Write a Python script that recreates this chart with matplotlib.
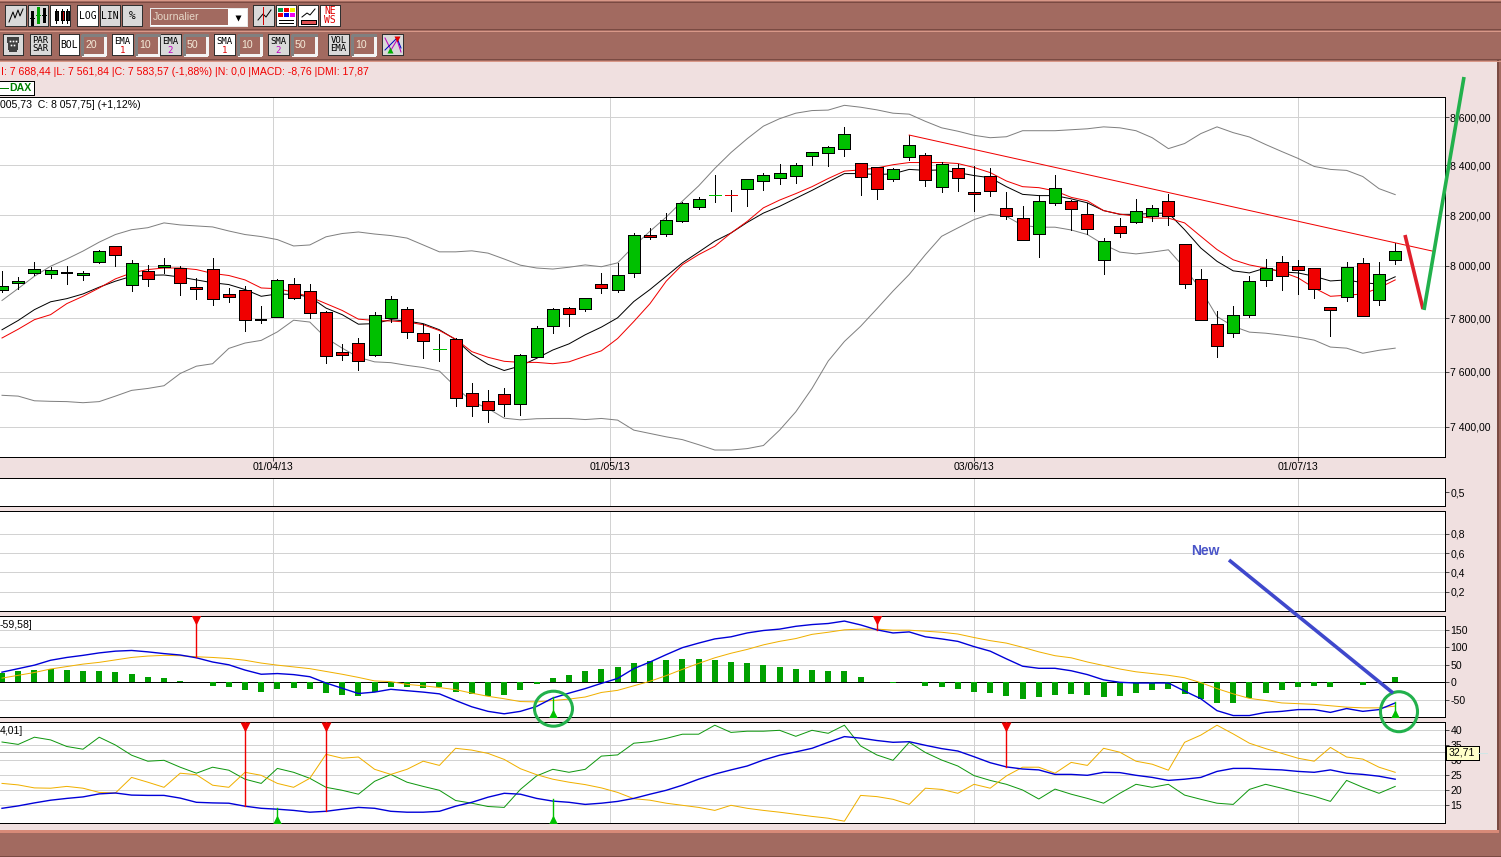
import matplotlib
matplotlib.use('Agg')
import matplotlib.pyplot as plt
from matplotlib.patches import Rectangle, Ellipse
from matplotlib.ticker import NullLocator

plt.rcParams['font.family'] = ['Liberation Sans', 'DejaVu Sans']
# grid, frames and candles are crisp in the screenshot
plt.rcParams['lines.antialiased'] = False
plt.rcParams['patch.antialiased'] = False

W, H = 1501, 857

# daily candles
opens = [7906,7933,7972,7968,7971,7964,8014,8076,7926,7981,7995,7992,7919,7988,7892,7908,7794,7806,7931,7904,
         7823,7672,7706,7663,7799,7835,7743,7683,7721,7520,7491,7516,7480,7655,7769,7838,7833,7931,7906,7972,
         8122,8124,8176,8233,8282,8282,8306,8335,8351,8359,8437,8449,8469,8412,8392,8347,8433,8441,8314,8388,
         8294,8359,8229,8188,8125,8249,8257,8204,8024,8157,8173,8196,8257,8086,7950,7777,7743,7811,7946,8016,
         8000,7992,7842,7881,8012,7870,8024]
closes = [7924,7942,7988,7985,7971,7974,8059,8043,8012,7949,8004,7933,7910,7872,7879,7791,7794,7946,7875,7819,
          7659,7663,7638,7811,7871,7746,7712,7683,7504,7475,7461,7480,7660,7762,7835,7814,7877,7914,7965,8122,
          8112,8180,8249,8265,8282,8282,8343,8363,8371,8400,8457,8474,8531,8355,8306,8384,8482,8339,8404,8351,
          8286,8298,8196,8102,8257,8310,8224,8145,8098,8129,8216,8229,8196,7931,7792,7694,7811,7942,7992,7962,
          7985,7911,7831,7996,7808,7970,8059]
highs = [7982,7959,8016,7995,8001,7981,8063,8076,8025,8005,8031,8000,7954,8031,7915,7921,7847,7949,7955,7932,
         7827,7702,7725,7824,7886,7842,7776,7741,7726,7558,7532,7539,7664,7770,7838,7842,7877,7971,8010,8129,
         8149,8208,8253,8273,8361,8299,8343,8371,8404,8412,8457,8478,8559,8412,8392,8388,8525,8449,8416,8404,
         8396,8388,8294,8238,8282,8361,8261,8249,8110,8188,8265,8241,8286,8086,7988,7827,7846,7962,8027,8039,
         8024,7992,7842,8016,8031,8016,8090]
lows = [7899,7912,7963,7955,7932,7944,8010,7999,7903,7922,7971,7887,7874,7849,7860,7750,7780,7806,7872,7801,
        7633,7643,7606,7658,7787,7726,7650,7640,7475,7439,7417,7439,7442,7655,7742,7769,7826,7895,7899,7956,
        8105,8116,8171,8223,8252,8215,8235,8299,8325,8329,8403,8399,8437,8280,8264,8337,8423,8317,8292,8297,
        8215,8276,8184,8102,8033,8241,8141,8125,7968,8114,8169,8176,8161,7915,7792,7655,7728,7804,7922,7908,
        7892,7877,7731,7865,7808,7851,8008]
doji_black = [4, 16]
doji_green = [27, 44]
doji_red = [45]

boll_upper = [7867,7913,7960,7999,8027,8058,8093,8123,8142,8150,8169,8161,8157,8153,8137,8123,8115,8103,8078,8082,
              8114,8127,8133,8125,8119,8109,8082,8055,8055,8059,8050,8027,8003,7992,7988,7995,8004,7997,8012,8077,
              8136,8192,8256,8317,8388,8453,8510,8562,8593,8616,8627,8629,8649,8641,8630,8616,8612,8582,8555,8541,
              8524,8514,8518,8543,8543,8543,8547,8551,8559,8555,8543,8514,8469,8490,8531,8559,8535,8517,8486,8457,
              8429,8396,8384,8380,8355,8306,8282]
boll_lower = [7513,7510,7493,7491,7490,7486,7490,7510,7531,7538,7548,7593,7620,7629,7686,7706,7716,7748,7792,7785,
              7725,7687,7653,7636,7633,7623,7615,7602,7544,7490,7465,7430,7424,7428,7429,7429,7425,7429,7423,7387,
              7375,7363,7353,7335,7316,7316,7321,7332,7387,7453,7538,7639,7712,7769,7835,7903,7967,8044,8116,8149,
              8182,8203,8195,8159,8152,8152,8141,8123,8084,8054,8047,8054,8063,7992,7909,7806,7769,7747,7743,7736,
              7728,7717,7691,7687,7668,7679,7687]
ema_black = [7756,7791,7832,7862,7874,7892,7918,7941,7960,7964,7965,7957,7946,7935,7928,7909,7883,7892,7890,7881,
             7838,7813,7777,7779,7794,7789,7779,7756,7719,7664,7627,7604,7621,7649,7680,7703,7737,7766,7801,7863,
             7909,7960,8012,8054,8097,8129,8171,8208,8235,8267,8299,8333,8367,8367,8363,8366,8384,8380,8382,8371,
             8359,8350,8314,8283,8278,8278,8265,8249,8218,8203,8203,8207,8208,8142,8070,8018,7981,7973,7992,7977,
             7973,7960,7942,7946,7935,7930,7958]
ema_red = [7725,7758,7794,7813,7855,7883,7915,7950,7973,7986,7992,7992,7986,7971,7963,7946,7915,7912,7899,7881,
           7855,7829,7796,7791,7789,7785,7775,7753,7721,7674,7653,7638,7634,7634,7629,7636,7657,7677,7723,7787,
           7855,7941,8005,8044,8077,8129,8175,8229,8260,8286,8314,8347,8377,8382,8390,8403,8412,8412,8412,8408,
           8392,8371,8337,8314,8310,8297,8271,8257,8218,8204,8195,8188,8188,8169,8116,8064,8024,8004,7992,7977,
           7954,7915,7883,7887,7892,7915,7946]
trend_x = [56, 88.3]
trend_y = [8525, 8058]

macd_hist = [26,32,35,38,35,32,32,29,24,15,12,4,0,-10,-13,-22,-27,-19,-16,-19,
             -30,-36,-39,-27,-13,-13,-16,-13,-27,-33,-39,-36,-22,-5,12,21,32,38,43,55,
             60,63,66,66,63,57,55,49,43,38,35,32,32,15,0,-3,0,-10,-13,-19,
             -27,-30,-38,-47,-41,-35,-33,-35,-41,-38,-30,-21,-19,-33,-47,-60,-58,-44,-30,-21,
             -13,-10,-13,0,-7,0,15]
macd_line = [29,39,49,63,71,77,84,89,91,87,82,78,70,58,50,35,23,25,22,16,
             -2,-17,-32,-28,-20,-24,-28,-33,-52,-70,-83,-90,-83,-69,-45,-31,-18,-3,11,39,
             58,79,99,112,124,130,141,148,152,160,165,168,175,164,150,141,144,130,124,117,
             102,89,67,46,40,40,33,22,7,0,-2,-2,-2,-25,-47,-81,-95,-95,-86,-83,
             -78,-78,-86,-75,-83,-78,-59]
macd_signal = [12,20,28,38,45,52,57,64,71,75,77,76,73,71,68,63,55,49,44,39,
               31,23,14,4,2,-6,-10,-15,-21,-31,-40,-47,-55,-56,-52,-48,-42,-29,-23,-10,
               3,19,37,54,70,83,94,107,117,125,137,143,150,152,152,149,149,146,143,138,
               128,119,112,100,87,76,70,58,48,38,30,25,20,13,-1,-18,-33,-46,-52,-59,
               -61,-63,-67,-71,-73,-73,-68]
macd_sell = [(12, 72), (54, 150)]
macd_buy = [(34, -42), (86, -55)]

dmi_plus = [36.1,35.3,37.7,36.8,34.6,33.7,37.7,35.1,31.7,29.7,30,27.7,25.7,27.7,26.7,23.7,22.3,27.3,26,24,
            21,20,18.7,23,25.3,22.7,21.3,20,16.6,15.7,14.6,14.3,20.3,24.8,27,26,27,31.4,31.8,35.7,
            36.2,37.3,38.7,38.7,41.7,39.3,39.7,39.7,40,38,40,39,41.7,34.8,31.8,30,36,32.6,30.1,28.1,
            24.9,23.3,22,20.1,17.1,20.4,18.7,17.3,15.7,19,22,21,22,18.4,17,15.7,15.3,20.3,22,20.7,
            19.3,18,16.3,23.3,21,19,21.3]
dmi_minus = [22.3,21.8,20.8,20.7,21.3,20.7,19.3,19.1,24.3,22.7,21,25.7,25.2,21.7,21,26,25,22.3,21,24,
             32,30.7,31.1,27,25.3,27,29.7,28.3,34,33.4,32.3,30.3,27.2,25.2,23.7,22.7,21.9,20.8,19.3,17.2,
             16.7,15.7,15,14.3,13.3,15,14,13.3,12.7,12,11.3,10.7,9.7,18.3,17.9,17,15.3,20.7,20.3,19,
             22,20.7,24.8,27.7,27.7,25.7,29.3,28.3,34,32.7,29.7,28.7,26.7,36,38.4,41.7,38.8,35.7,33.9,32.3,
             30.7,29.7,34.3,31.1,30.4,27.7,26]
adx = [14,14.8,15.8,16.7,17.3,17.8,18.8,19.1,18.4,18.3,18.3,17.4,16,15.8,15.7,14.7,14,13.7,13.3,12.7,
       13,13.7,14.3,14,13,12.7,12.7,13,14.7,16,17.7,19,18.7,17.3,16.4,16,15.3,15.7,16.3,17.3,
       18.7,20,21.7,23.7,25.4,26.8,28.1,30.1,31.7,32.8,34,36,37.9,37.4,36.6,36,36.2,35,33.9,33.1,
       31.2,29.2,27.8,27.1,26.8,25.3,25.3,25,26,25.9,25,24.3,23.3,23.7,24.3,26.3,27.3,27.3,27,26.8,
       26.3,26,26.8,25.7,25.3,24.7,23.7]
dmi_sell = [(15, 14.7), (20, 13), (62, 27.8)]
dmi_buy = [(17, 14), (34, 17)]
dmi_last = 32.71

date_pos = [16.7, 37.5, 60, 80]
date_labels = ['01/04/13', '01/05/13', '03/06/13', '01/07/13']
price_ticks = [7400, 7600, 7800, 8000, 8200, 8400, 8600]
price_labels = ['7 400,00', '7 600,00', '7 800,00', '8 000,00', '8 200,00', '8 400,00', '8 600,00']

BROWN = '#a26a60'
PINK = '#f0e0e0'
GRID = '#d2d2d2'
PX = 0.5  # thin width that stays one pixel wide without smoothing
LW = 0.72  # one pixel for the smoothed series lines
FS = 7.6
RIGHT = 1444.5
X0, DX = 2.0, 16.2  # where candle 0 sits, and candle spacing in pixels

fig = plt.figure(figsize=(W / 100, H / 100), dpi=100, facecolor=BROWN)

# window background
bg = fig.add_axes([0, 0, 1, 1], zorder=-1)
bg.set_xlim(0, W)
bg.set_ylim(H, 0)
bg.axis('off')
bg.add_patch(Rectangle((0, 62), 1497, 768, fc=PINK, ec='none'))
bg.add_patch(Rectangle((1497, 60), 2, 772, fc='#7a4a42', ec='none'))
bg.add_patch(Rectangle((0, 830), 1499, 3, fc='#d88a78', ec='none'))
for y0, col in [(0, '#d89888'), (1.5, '#7a4a42'), (29, '#7a4a42'), (30.5, '#d89888'), (59, '#7a4a42'), (60.5, '#d89888')]:
    bg.plot([0, W], [y0, y0], color=col, lw=PX)
bg.plot([0, W], [855.5, 855.5], color='#7a4a42', lw=PX)


def panel(top, bottom, ylim, yticks=None, ylabels=None):
    ax = fig.add_axes([0, 1 - bottom / H, RIGHT / W, (bottom - top) / H], zorder=2)
    ax.set_xlim(-X0 / DX, (RIGHT - X0) / DX)
    ax.set_ylim(*ylim)
    ax.yaxis.tick_right()
    ax.set_xticks(date_pos)
    ax.set_xticklabels([])
    ax.tick_params(axis='x', length=0)
    ax.tick_params(axis='y', length=3, width=PX, pad=1.2, labelsize=FS)
    ax.grid(True, color=GRID, lw=PX, zorder=0)
    ax.set_axisbelow(True)
    ax.spines['left'].set_visible(False)
    for s in ax.spines.values():
        s.set_linewidth(PX * 1.2)
    if yticks is not None:
        ax.set_yticks(yticks)
        ax.set_yticklabels(ylabels)
    return ax


def series(target, y, col, lw=LW, z=2):
    target.plot(idx, y, color=col, lw=lw, zorder=z, antialiased=True)


idx = list(range(len(opens)))

# price panel
ax = panel(97, 456.5, (7293, 8684))
ax.set_yscale('log')
ax.set_ylim(7293, 8684)
ax.yaxis.set_minor_locator(NullLocator())
ax.set_yticks(price_ticks)
ax.set_yticklabels(price_labels)
ax.tick_params(axis='x', length=3, width=PX, labelsize=FS, pad=1, bottom=True)
ax.set_xticklabels(date_labels)
series(ax, boll_upper, '#808080')
series(ax, boll_lower, '#808080')
series(ax, ema_black, 'black')
series(ax, ema_red, '#f00000')
ax.vlines(idx, lows, highs, color='black', lw=PX, zorder=3, antialiased=False)
for i in idx:
    if i in doji_black:
        ax.hlines(opens[i], i - 0.38, i + 0.38, color='black', lw=PX * 2.4, zorder=4, antialiased=False)
    elif i in doji_green:
        ax.hlines(opens[i], i - 0.38, i + 0.38, color='#00c000', lw=PX, zorder=4, antialiased=False)
    elif i in doji_red:
        ax.hlines(opens[i], i - 0.38, i + 0.38, color='#f00000', lw=PX, zorder=4, antialiased=False)
    else:
        col = '#00c000' if closes[i] > opens[i] else '#f00000'
        ax.bar(i, abs(closes[i] - opens[i]), bottom=min(opens[i], closes[i]), width=0.74,
               facecolor=col, edgecolor='black', lw=PX * 1.2, zorder=4)
ax.plot(trend_x, trend_y, color='#f00000', lw=LW, zorder=5, antialiased=True)

# empty indicator panels
ax2 = panel(478, 506, (0, 1), [0.5], ['0,5'])
ax2.grid(False, axis='y')
ax2.grid(True, axis='x', color=GRID, lw=PX)
ax3 = panel(511, 611, (0, 1.036), [0.2, 0.4, 0.6, 0.8], ['0,2', '0,4', '0,6', '0,8'])

# MACD
ax4 = panel(616.3, 717.3, (-100, 188.6), [-50, 0, 50, 100, 150], ['-50', '0', '50', '100', '150'])
ax4.bar(idx, macd_hist, width=0.37, color='#00a000', zorder=3)
ax4.axhline(0, color='black', lw=PX * 1.2, zorder=2)
series(ax4, macd_signal, '#f0b000', z=4)
series(ax4, macd_line, '#0000d8', lw=1.0, z=5)
for i, v in macd_sell:
    ax4.plot([i, i], [v, 188.6], color='#f00000', lw=1.0, zorder=6, antialiased=True)
    ax4.plot(i, 178, marker='v', ms=6.5, color='#f00000', mec='none', zorder=6, antialiased=True)
for i, v in macd_buy:
    ax4.plot([i, i], [-100, v], color='#00c000', lw=1.0, zorder=6, antialiased=True)
    ax4.plot(i, -90, marker='^', ms=6.5, color='#00c000', mec='none', zorder=6, antialiased=True)

# DMI
ax5 = panel(722.3, 823.3, (9, 42.67), [15, 20, 25, 30, 35, 40], ['15', '20', '25', '30', '35', '40'])
ax5.axhline(dmi_last, color='#b4b4b4', lw=PX, zorder=1)
series(ax5, dmi_plus, '#109810', z=3)
series(ax5, dmi_minus, '#f0b000', z=3)
series(ax5, adx, '#0000d8', lw=1.0, z=4)
for i, v in dmi_sell:
    ax5.plot([i, i], [v, 42.67], color='#f00000', lw=1.0, zorder=6, antialiased=True)
    ax5.plot(i, 41, marker='v', ms=6.5, color='#f00000', mec='none', zorder=6, antialiased=True)
for i, v in dmi_buy:
    ax5.plot([i, i], [9, v], color='#00c000', lw=1.0, zorder=6, antialiased=True)
    ax5.plot(i, 10.2, marker='^', ms=6.5, color='#00c000', mec='none', zorder=6, antialiased=True)

# everything on top of the panels, in screen pixels
ov = fig.add_axes([0, 0, 1, 1], zorder=5)
ov.set_xlim(0, W)
ov.set_ylim(H, 0)
ov.axis('off')
ov.patch.set_alpha(0)

ov.text(1, 72, 'I: 7 688,44 |L: 7 561,84 |C: 7 583,57 (-1,88%) |N: 0,0 |MACD: -8,76 |DMI: 17,87',
        color='#f00000', fontsize=FS, va='center')
ov.add_patch(Rectangle((-2, 80.5), 36, 14, fc='white', ec='black', lw=PX))
ov.plot([0, 8], [87.5, 87.5], color='#008000', lw=PX)
ov.text(9, 87.5, 'DAX', color='#008000', fontsize=FS, fontweight='bold', va='center')
ov.text(0, 104.5, '005,73  C: 8 057,75] (+1,12%)', fontsize=FS, va='center')
ov.text(0, 624.5, '-59,58]', fontsize=FS, va='center', clip_on=True)
ov.text(0, 731.5, '4,01]', fontsize=FS, va='center', clip_on=True)

# tooltip with the last DMI value
ov.add_patch(Rectangle((1445.5, 745.5), 33, 14, fc='#ffffc8', ec='black', lw=PX))
ov.text(1462, 752.5, '32,71', fontsize=FS, ha='center', va='center')
ov.plot([1478, 1487], [752.5, 752.5], color='#cfe6e6', lw=PX)

# hand drawn marks
ov.plot([1405, 1423], [235, 309], color='#e0202c', lw=2.6, solid_capstyle='butt', antialiased=True)
ov.plot([1424, 1464], [310, 77], color='#22b14c', lw=2.6, solid_capstyle='butt', antialiased=True)
ov.plot([1229, 1393], [560, 693], color='#3f48cc', lw=2.6, solid_capstyle='butt', antialiased=True)
ov.text(1205.5, 551, 'New', color='#4a55c8', fontsize=10, fontweight='bold', ha='center', va='center')
ov.add_patch(Ellipse((553.5, 708.7), 38, 35, fc='none', ec='#22b14c', lw=2.2, antialiased=True))
ov.add_patch(Ellipse((1399, 711.7), 37, 40, fc='none', ec='#22b14c', lw=2.2, antialiased=True))


def button(x0, y0, x1, y1, fc='#d9d9d9', label=None, col='black', size=7):
    ov.add_patch(Rectangle((x0 + 1, y0 + 1), x1 - x0, y1 - y0, fc='#101010', ec='none'))
    ov.add_patch(Rectangle((x0, y0), x1 - x0, y1 - y0, fc=fc, ec='#303030', lw=PX))
    if label:
        ov.text((x0 + x1) / 2, (y0 + y1) / 2, label, color=col, fontsize=size, ha='center', va='center',
                family='DejaVu Sans Mono', linespacing=0.95)


def value_box(x0, x1, label):
    ov.add_patch(Rectangle((x0, 34.5), x1 - x0, 20, fc=BROWN, ec='#f4f4f4', lw=PX * 1.5))
    ov.plot([x0, x0, x1], [54, 34.5, 34.5], color='#808080', lw=PX * 1.5)
    ov.text(x0 + 3, 44.5, label, color='#f4ead8', fontsize=FS, va='center')


def ma_button(x0, fc, name, num, numcol):
    button(x0, 34, x0 + 21, 55, fc=fc)
    ov.text(x0 + 10.5, 41, name, fontsize=6.5, ha='center', va='center', family='DejaVu Sans Mono')
    ov.text(x0 + 10.5, 50, num, color=numcol, fontsize=6.5, ha='center', va='center', family='DejaVu Sans Mono')


# first toolbar
button(5, 5, 26, 26)
ov.plot([9, 13, 15, 18, 20, 23], [22, 12, 18, 10, 16, 9], color='black', lw=LW, antialiased=True)
button(28, 5, 48, 26)
for xb, yb0, yb1, c in [(32, 12, 24, 'black'), (38, 8, 22, '#00a000'), (44, 9, 21, 'black')]:
    ov.plot([xb, xb], [yb0, yb1], color=c, lw=PX * 1.5)
    ov.plot([xb - 2, xb + 2], [(yb0 + yb1) / 2, (yb0 + yb1) / 2], color=c, lw=PX)
button(50, 5, 70, 26, fc='white')
for xb, c in [(56, '#202020'), (62, '#d00000'), (67, '#202020')]:
    ov.plot([xb, xb], [9, 23], color='black', lw=PX)
    ov.add_patch(Rectangle((xb - 1.5, 11), 3, 9, fc=c, ec='black', lw=PX))
button(77, 5, 98, 26, fc='white', label='LOG')
button(100, 5, 120, 26, label='LIN')
button(122, 5, 142, 26, label='%', size=8)
ov.add_patch(Rectangle((149.5, 7.5), 97, 18, fc='white', ec='#e8e8e8', lw=PX))
ov.add_patch(Rectangle((150.5, 8.5), 77, 16, fc=BROWN, ec='none'))
ov.text(153, 16.5, 'Journalier', color='#e6d8c8', fontsize=FS, va='center')
ov.plot([238], [17.5], marker='v', ms=4.5, color='black', mec='none', antialiased=True)
button(253, 5, 274, 26)
ov.plot([258, 263, 266, 271], [20, 14, 17, 10], color='black', lw=LW, antialiased=True)
ov.plot([263, 263], [7, 24], color='#d00000', lw=PX)
button(276, 5, 296, 26, fc='white')
for xc, yc, c in [(280, 9, '#00a050'), (286, 9, '#f00000'), (292, 9, '#f0f000'), (280, 14, '#f00000'), (286, 14, '#0000f0'), (292, 14, '#f000f0')]:
    ov.add_patch(Rectangle((xc - 2.5, yc - 1.5), 5, 4, fc=c, ec='none'))
ov.plot([279, 293], [20, 20], color='black', lw=PX * 1.4)
ov.plot([279, 293], [23, 23], color='black', lw=PX * 1.4)
button(298, 5, 318, 26, fc='white')
ov.plot([302, 307, 310, 315], [17, 13, 15, 9], color='black', lw=LW, antialiased=True)
ov.add_patch(Rectangle((301, 20), 15, 4, fc='#e05050', ec='black', lw=PX))
button(320, 5, 340, 26, fc='white', label='NE\nWS', col='#e00000', size=7)

# second toolbar
button(3, 34, 23, 55)
ov.fill([8, 18, 16, 10], [38, 38, 51, 51], color='#404040')
ov.plot([10, 13, 16, 11, 14], [41, 41, 41, 45, 45], ls='none', marker='s', ms=1.2, color='white', mec='none', antialiased=True)
button(30, 34, 51, 55, label='PAR\nSAR', size=6.5)
button(59, 34, 79, 55, fc='white', label='BOL', size=7)
value_box(82, 105, '20')
ma_button(112, 'white', 'EMA', '1', '#e00000')
value_box(136, 159, '10')
ma_button(160, '#d9d9d9', 'EMA', '2', '#c000c0')
value_box(184, 207, '50')
ma_button(214, 'white', 'SMA', '1', '#e00000')
value_box(238, 261, '10')
ma_button(268, '#d9d9d9', 'SMA', '2', '#c000c0')
value_box(292, 316, '50')
button(328, 34, 349, 55, label='VOL\nEMA', size=6.5)
value_box(352, 375, '10')
button(382, 34, 403, 55)
ov.plot([385, 391, 397, 401], [38, 50, 40, 52], color='#c000c0', lw=LW, antialiased=True)
ov.plot([385, 391, 397, 401], [50, 44, 38, 48], color='#0000c0', lw=LW, antialiased=True)
ov.plot([390], [50], marker='^', ms=4, color='#00b000', mec='none', antialiased=True)
ov.plot([397], [39], marker='v', ms=4, color='#e00000', mec='none', antialiased=True)

fig.savefig('out.png', dpi=100, facecolor=BROWN)
